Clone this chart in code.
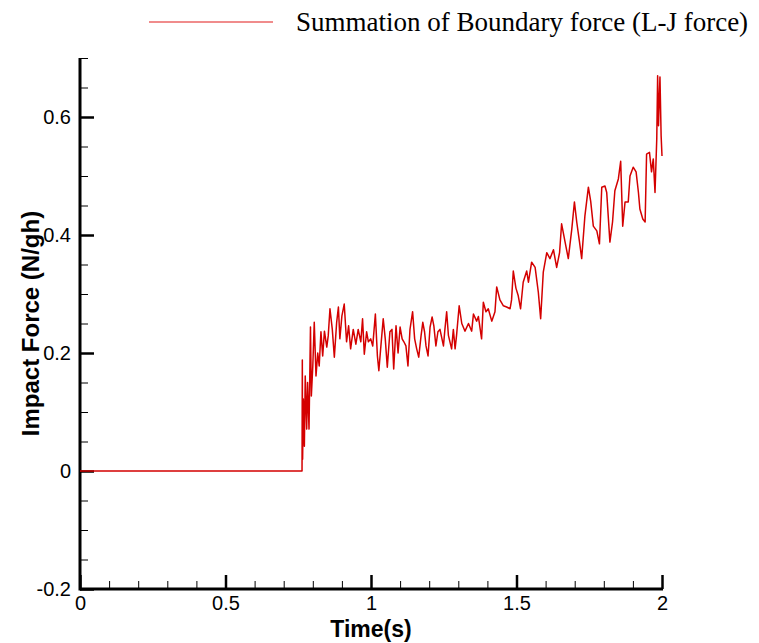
<html lang="en">
  <head>
    <meta charset="UTF-8" />
    <title>Impact Force</title>
    <script src="https://d3js.org/d3.v7.min.js"></script>
  </head>
  <body>
    <style>
      body {
        background-color: #ffffff;
        margin: 0;
        padding: 0;
      }
      svg {
        display: block;
      }
      .tick text {
        font-family: "Liberation Sans", Arial, sans-serif;
        font-size: 20px;
        fill: #000;
      }
    </style>
    <script>
      const w = 759;
      const h = 643;
      const margin = { top: 58, right: 97, bottom: 54, left: 80 };
      const lineColor = "#d40000";

      const legendLabel = "Summation of Boundary force (L-J force)";
      const xTitle = "Time(s)";
      const yTitle = "Impact Force (N/gh)";
      const xTicks = [0, 0.5, 1, 1.5, 2];
      const yTicks = [-0.2, 0, 0.2, 0.4, 0.6];

      // time (s) and force values
      const time = [
        0, 0.763, 0.764, 0.765, 0.7675, 0.771, 0.774, 0.779, 0.782, 0.787,
        0.792, 0.795, 0.8, 0.805, 0.811, 0.817, 0.822, 0.828, 0.834, 0.84,
        0.848, 0.853, 0.859, 0.867, 0.874, 0.882, 0.888, 0.893, 0.9, 0.908,
        0.916, 0.923, 0.93, 0.939, 0.948, 0.956, 0.965, 0.971, 0.977, 0.985,
        0.991, 0.999, 1.006, 1.015, 1.022, 1.027, 1.034, 1.042, 1.049, 1.056,
        1.065, 1.072, 1.078, 1.086, 1.093, 1.1, 1.107, 1.113, 1.12, 1.127,
        1.134, 1.143, 1.15, 1.157, 1.164, 1.172, 1.178, 1.184, 1.189, 1.196,
        1.203, 1.21, 1.216, 1.223, 1.23, 1.237, 1.249, 1.254, 1.26, 1.266,
        1.277, 1.283, 1.289, 1.294, 1.303, 1.312, 1.323, 1.335, 1.346, 1.352,
        1.363, 1.369, 1.38, 1.386, 1.395, 1.403, 1.415, 1.426, 1.432, 1.443,
        1.455, 1.466, 1.478, 1.483, 1.489, 1.498, 1.506, 1.514, 1.523, 1.535,
        1.541, 1.552, 1.564, 1.575, 1.583, 1.592, 1.604, 1.615, 1.627, 1.638,
        1.648, 1.655, 1.667, 1.678, 1.69, 1.699, 1.707, 1.716, 1.724, 1.735,
        1.747, 1.755, 1.764, 1.776, 1.785, 1.793, 1.804, 1.81, 1.821, 1.83,
        1.838, 1.85, 1.858, 1.865, 1.873, 1.884, 1.89, 1.901, 1.911, 1.919,
        1.924, 1.934, 1.942, 1.947, 1.957, 1.964, 1.97, 1.976, 1.982, 1.985,
        1.988, 1.993, 1.997, 2.0,
      ];
      const force = [
        0, 0, 0.188, 0.02, 0.122, 0.042, 0.161, 0.071, 0.15, 0.071,
        0.244, 0.127, 0.178, 0.252, 0.161, 0.2, 0.178, 0.236, 0.195, 0.237,
        0.21, 0.229, 0.275, 0.24, 0.193, 0.252, 0.278, 0.224, 0.263, 0.283,
        0.219, 0.246, 0.207, 0.24, 0.215, 0.24, 0.219, 0.258, 0.198, 0.236,
        0.219, 0.224, 0.212, 0.266, 0.195, 0.17, 0.212, 0.258, 0.224, 0.176,
        0.236, 0.24, 0.173, 0.246, 0.2, 0.244, 0.224, 0.219, 0.212, 0.178,
        0.24, 0.27, 0.224, 0.207, 0.193, 0.229, 0.252, 0.236, 0.212, 0.195,
        0.244, 0.261, 0.246, 0.212, 0.236, 0.24, 0.212, 0.24, 0.27, 0.23,
        0.207, 0.24, 0.207, 0.23, 0.28, 0.25, 0.237, 0.25, 0.237, 0.266,
        0.254, 0.262, 0.224, 0.286, 0.27, 0.275, 0.254, 0.27, 0.312, 0.29,
        0.28, 0.278, 0.275, 0.29, 0.339, 0.31, 0.297, 0.275, 0.32, 0.339,
        0.32, 0.354, 0.345, 0.303, 0.258, 0.337, 0.37, 0.36, 0.375, 0.345,
        0.37, 0.419, 0.388, 0.36, 0.41, 0.456, 0.422, 0.39, 0.36, 0.432,
        0.481, 0.457, 0.415, 0.407, 0.385, 0.481, 0.483, 0.472, 0.388, 0.422,
        0.475, 0.495, 0.525, 0.415, 0.456, 0.456, 0.5, 0.515, 0.507, 0.472,
        0.444, 0.427, 0.422, 0.537, 0.54, 0.507, 0.529, 0.472, 0.563, 0.67,
        0.585, 0.668, 0.568, 0.534,
      ];

      const data = time.map((t, i) => ({ t, v: force[i] }));

      const svg = d3
        .select("body")
        .append("svg")
        .attr("width", w)
        .attr("height", h);

      const xScale = d3
        .scaleLinear()
        .domain([0, 2])
        .range([margin.left, w - margin.right]);
      const yScale = d3
        .scaleLinear()
        .domain([-0.2, 0.7])
        .range([h - margin.bottom, margin.top]);

      // minor ticks first
      const xMinor = d3.range(0, 2.0001, 0.1);
      const yMinor = d3.range(-0.2, 0.7001, 0.05);

      const xAxisMinor = d3
        .axisBottom(xScale)
        .tickValues(xMinor)
        .tickSize(-8)
        .tickFormat("");
      const yAxisMinor = d3
        .axisLeft(yScale)
        .tickValues(yMinor)
        .tickSize(-8)
        .tickFormat("");

      const xAxis = d3
        .axisBottom(xScale)
        .tickValues(xTicks)
        .tickSize(-14)
        .tickPadding(7)
        .tickFormat((d) => d3.format("")(d));
      const yAxis = d3
        .axisLeft(yScale)
        .tickValues(yTicks)
        .tickSize(-14)
        .tickPadding(9)
        .tickFormat((d) => d3.format("")(d).replace("−", "-"));

      const gx = svg
        .append("g")
        .attr("id", "x-axis")
        .attr("transform", `translate(0, ${h - margin.bottom})`);
      gx.append("g").call(xAxisMinor).selectAll("line").attr("stroke-width", 1);
      gx.append("g").call(xAxis).selectAll("line").attr("stroke-width", 2.5);

      const gy = svg
        .append("g")
        .attr("id", "y-axis")
        .attr("transform", `translate(${margin.left}, 0)`);
      gy.append("g").call(yAxisMinor).selectAll("line").attr("stroke-width", 1);
      gy.append("g").call(yAxis).selectAll("line").attr("stroke-width", 2.5);

      svg.selectAll(".domain").remove();

      // axis lines
      svg
        .append("line")
        .attr("x1", xScale(0))
        .attr("x2", xScale(2) + 1)
        .attr("y1", yScale(-0.2))
        .attr("y2", yScale(-0.2))
        .attr("stroke", "#000")
        .attr("stroke-width", 3);
      svg
        .append("line")
        .attr("x1", xScale(0))
        .attr("x2", xScale(0))
        .attr("y1", yScale(0.7))
        .attr("y2", yScale(-0.2) + 1.5)
        .attr("stroke", "#000")
        .attr("stroke-width", 3);

      // the data line
      const line = d3
        .line()
        .x((d) => xScale(d.t))
        .y((d) => yScale(d.v));
      svg
        .append("path")
        .datum(data)
        .attr("fill", "none")
        .attr("stroke", lineColor)
        .attr("stroke-width", 1.5)
        .attr("stroke-linejoin", "round")
        .attr("d", line);

      // legend
      const legend = svg.append("g").attr("id", "legend");
      legend
        .append("line")
        .attr("x1", 149)
        .attr("x2", 273)
        .attr("y1", 22)
        .attr("y2", 22)
        .attr("stroke", "#e21a1a")
        .attr("stroke-width", 1.2);
      legend
        .append("text")
        .attr("x", 296)
        .attr("y", 31)
        .style("font-family", "'Liberation Serif', 'Times New Roman', serif")
        .style("font-size", "27px")
        .text(legendLabel);

      // axis titles
      svg
        .append("text")
        .attr("x", (xScale(0) + xScale(2)) / 2)
        .attr("y", 637)
        .attr("text-anchor", "middle")
        .style("font-family", "'Liberation Sans', Arial, sans-serif")
        .style("font-weight", "bold")
        .style("font-size", "23px")
        .text(xTitle);
      svg
        .append("text")
        .attr("transform", `translate(39, ${yScale(0.25)}) rotate(-90)`)
        .attr("text-anchor", "middle")
        .style("font-family", "'Liberation Sans', Arial, sans-serif")
        .style("font-weight", "bold")
        .style("font-size", "24px")
        .text(yTitle);
    </script>
  </body>
</html>
